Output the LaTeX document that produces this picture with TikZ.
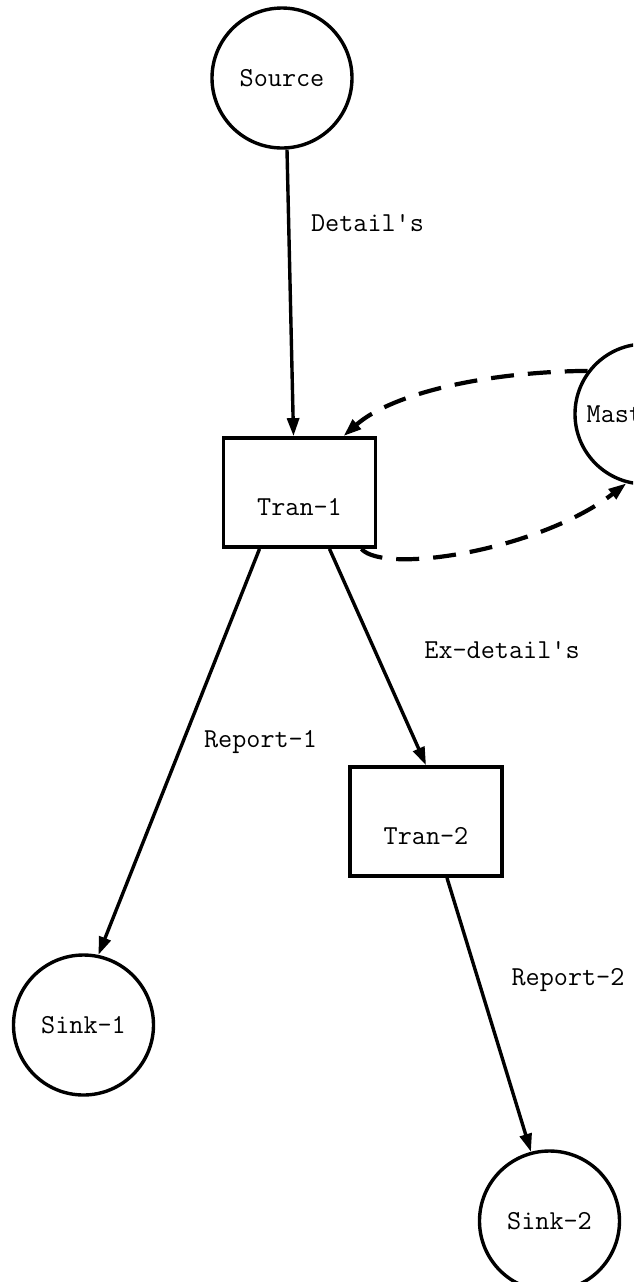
\documentclass[tikz,border=0pt]{standalone}
\usepackage{fontspec}
\usepackage{tikz}
\usetikzlibrary{positioning,arrows.meta,calc}

\begin{document}
\begin{tikzpicture}[
  x=0.5pt, y=-0.5pt,
  font=\ttfamily\fontsize{13.7}{16}\selectfont,
  store/.style={draw, circle, line width=1.7pt, minimum size=70pt, inner sep=0pt},
  proc/.style={draw, rectangle, line width=1.9pt, minimum width=76pt, inner xsep=0pt,
               inner ysep=0pt, text height=38.5pt, text depth=16pt},
  arr/.style={-{Triangle[length=9pt,width=6pt]}, line width=1.7pt},
  darr/.style={arr, line width=2.1pt, dash pattern=on 11.5pt off 7pt},
  lab/.style={inner sep=0pt}
]
\useasboundingbox (0,0) rectangle (633,1282);
\clip (0,0) rectangle (633,1282);
% ----- processes and stores -----
\node[store] (source) at (282,78) {Source};
\node[proc] (tran1) at (299.5,492.5) {Tran-1};
\node[store] (master) at (645,414) {\hspace*{-16pt}Master};
\node[proc] (tran2) at (426,821.5) {Tran-2};
\node[store] (sink1) at (83.5,1025) {Sink-1};
\node[store] (sink2) at (549.5,1221) {Sink-2};
% ----- data flows -----
\draw[arr] (source.-86) -- ([xshift=-3pt]tran1.north);
\draw[arr] ([xshift=-20pt]tran1.south) -- (sink1.78);
\draw[arr] ([xshift=15pt]tran1.south) -- (tran2.north);
\draw[arr] ([xshift=10.5pt]tran2.south) -- (sink2.105);
% ----- master file read / write -----
\draw[darr] (master.143) .. controls (480,372) and (390,395) .. ([xshift=22pt]tran1.north);
\draw[darr] ([xshift=-8pt]tran1.south east) .. controls (385,575) and (540,550) .. (master.-105);
% ----- flow labels -----
\node[lab] (ldetail) at (367.5,223) {Detail's};
\node[lab] (lexdetail) at (502,650) {Ex-detail's};
\node[lab] (lrep1) at (260.5,742) {Report-1};
\node[lab] (lrep2) at (568,980) {Report-2};
\end{tikzpicture}
\end{document}
